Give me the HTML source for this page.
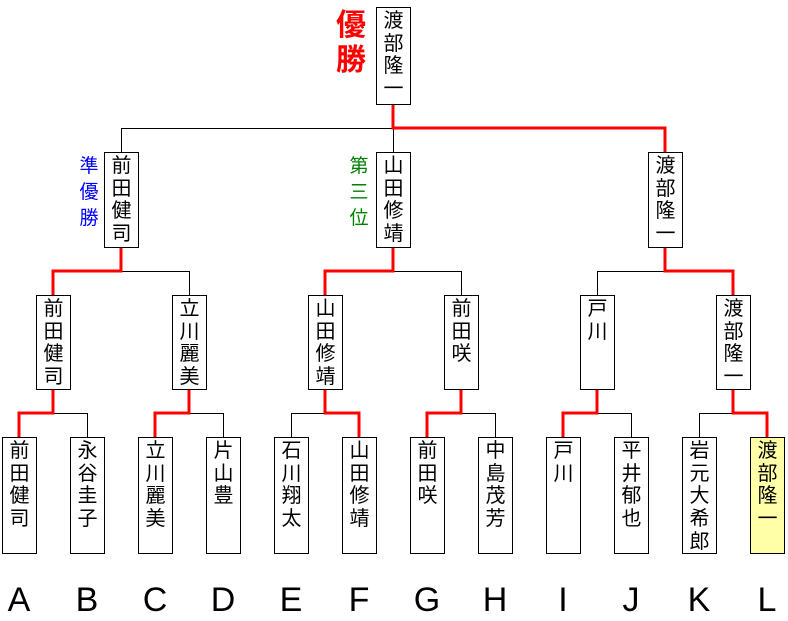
<!DOCTYPE html>
<html><head><meta charset="utf-8"><style>
body{margin:0;width:788px;height:621px;background:#fff;position:relative;overflow:hidden;font-family:"Liberation Sans","Noto Sans CJK JP",sans-serif}
.b{position:absolute;box-sizing:border-box;width:35px;border:1px solid #000;background:#fff;text-align:center;font-size:20px;line-height:22.7px;padding-top:2px;color:#000}
.l{position:absolute;font-size:34px;width:40px;text-align:center;top:580px;line-height:40px}
.v{position:absolute;text-align:center}
svg{position:absolute;left:0;top:0}
</style></head><body>
<svg width="788" height="621">
<g stroke="#000" stroke-width="1" fill="none" shape-rendering="crispEdges">
<path d="M121.5 152V128.5H393.5V152"/>
<path d="M393.5 128.5V152"/>
<path d="M121.5 271.5H189.5V295"/>
<path d="M325.5 271.5H461.5V295"/>
<path d="M597.5 295V271.5H665.5"/>
<path d="M53.5 413.5H87.5V437"/>
<path d="M189.5 413.5H223.5V437"/>
<path d="M291.5 437V413.5H325.5"/>
<path d="M461.5 413.5H495.5V437"/>
<path d="M597.5 413.5H631.5V437"/>
<path d="M699.5 437V413.5H733.5"/>
</g>
<g stroke="#f00" stroke-width="3" fill="none">
<path d="M393 104V128H665V152"/>
<path d="M121 247V271H53V295"/>
<path d="M393 247V271H325V295"/>
<path d="M665 247V271H733V295"/>
<path d="M53 389V413H19V437"/>
<path d="M189 389V413H155V437"/>
<path d="M325 389V413H359V437"/>
<path d="M461 389V413H427V437"/>
<path d="M597 389V413H563V437"/>
<path d="M733 389V413H767V437"/>
</g>
</svg>
<div class="v" style="left:333px;top:8px;width:36px;font-size:30px;line-height:35px;font-weight:bold;color:#f00">優<br>勝</div>
<div class="v" style="left:76px;top:154px;width:26px;font-size:19px;line-height:26px;color:#00f">準<br>優<br>勝</div>
<div class="v" style="left:346px;top:154px;width:26px;font-size:19px;line-height:26px;color:#008000">第<br>三<br>位</div>
<div class="b" style="left:376px;top:7px;height:98px">渡<br>部<br>隆<br>一</div>
<div class="b" style="left:104px;top:152px;height:96px">前<br>田<br>健<br>司</div>
<div class="b" style="left:376px;top:152px;height:96px">山<br>田<br>修<br>靖</div>
<div class="b" style="left:648px;top:152px;height:96px">渡<br>部<br>隆<br>一</div>
<div class="b" style="left:36px;top:295px;height:95px">前<br>田<br>健<br>司</div>
<div class="b" style="left:172px;top:295px;height:95px">立<br>川<br>麗<br>美</div>
<div class="b" style="left:308px;top:295px;height:95px">山<br>田<br>修<br>靖</div>
<div class="b" style="left:444px;top:295px;height:95px">前<br>田<br>咲</div>
<div class="b" style="left:580px;top:295px;height:95px">戸<br>川</div>
<div class="b" style="left:716px;top:295px;height:95px">渡<br>部<br>隆<br>一</div>
<div class="b" style="left:2px;top:437px;height:117px">前<br>田<br>健<br>司</div>
<div class="b" style="left:70px;top:437px;height:117px">永<br>谷<br>圭<br>子</div>
<div class="b" style="left:138px;top:437px;height:117px">立<br>川<br>麗<br>美</div>
<div class="b" style="left:206px;top:437px;height:117px">片<br>山<br>豊</div>
<div class="b" style="left:274px;top:437px;height:117px">石<br>川<br>翔<br>太</div>
<div class="b" style="left:342px;top:437px;height:117px">山<br>田<br>修<br>靖</div>
<div class="b" style="left:410px;top:437px;height:117px">前<br>田<br>咲</div>
<div class="b" style="left:478px;top:437px;height:117px">中<br>島<br>茂<br>芳</div>
<div class="b" style="left:546px;top:437px;height:117px">戸<br>川</div>
<div class="b" style="left:614px;top:437px;height:117px">平<br>井<br>郁<br>也</div>
<div class="b" style="left:682px;top:437px;height:117px">岩<br>元<br>大<br>希<br>郎</div>
<div class="b" style="left:750px;top:437px;height:117px;background:#ffffa8">渡<br>部<br>隆<br>一</div>
<div class="l" style="left:-1px">A</div>
<div class="l" style="left:67px">B</div>
<div class="l" style="left:135px">C</div>
<div class="l" style="left:203px">D</div>
<div class="l" style="left:271px">E</div>
<div class="l" style="left:339px">F</div>
<div class="l" style="left:407px">G</div>
<div class="l" style="left:475px">H</div>
<div class="l" style="left:543px">I</div>
<div class="l" style="left:611px">J</div>
<div class="l" style="left:679px">K</div>
<div class="l" style="left:747px">L</div>
</body></html>
